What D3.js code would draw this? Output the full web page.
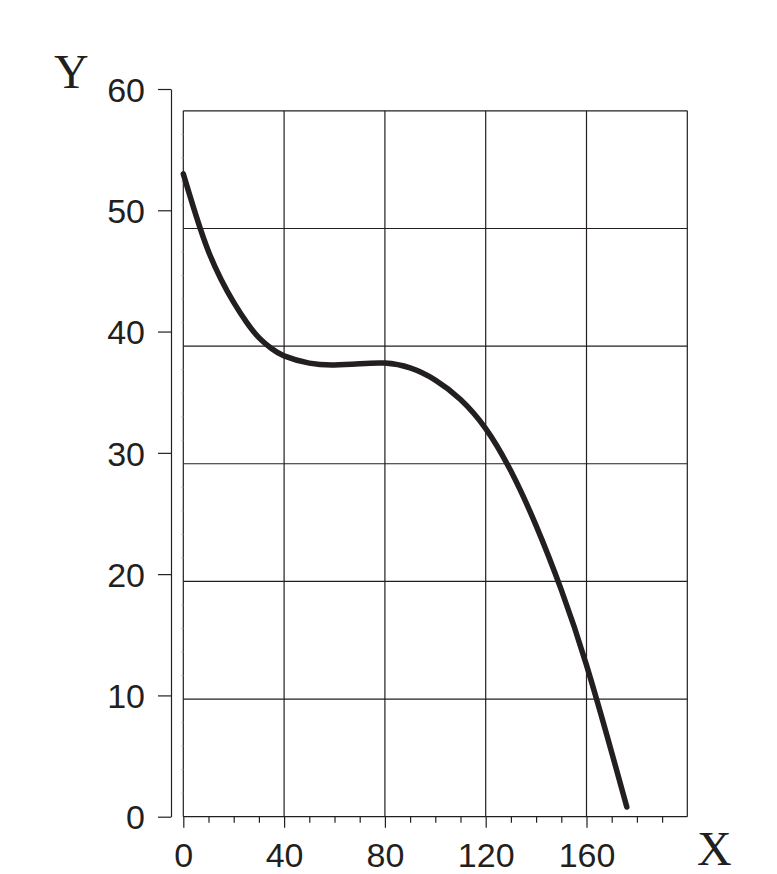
<!DOCTYPE html>
<html>
<head>
<meta charset="utf-8">
<script src="https://cdn.jsdelivr.net/npm/d3@7"></script>
<style>
  html, body { margin: 0; padding: 0; background: #fff; }
  svg { display: block; }
</style>
</head>
<body>
<svg id="chart" width="777" height="874"></svg>
<script>
// ---- data ----
const curveX = [0, 5, 10, 15, 20, 25, 30, 35, 40, 50, 60, 70, 80, 90, 100, 110, 120, 130, 140, 150, 160, 170, 176];
const curveY = [53.0, 49.6, 46.6, 44.3, 42.4, 40.8, 39.5, 38.6, 38.0, 37.4, 37.25, 37.35, 37.4, 37.0, 36.0, 34.4, 32.0, 28.5, 24.0, 18.7, 12.5, 5.3, 0.8];
const xTickLabels = [0, 40, 80, 120, 160];
const xMinorTicks = [10, 20, 30, 50, 60, 70, 90, 100, 110, 130, 140, 150, 170, 180, 190];
const yTickLabels = [0, 10, 20, 30, 40, 50, 60];
const xGrid = [0, 40, 80, 120, 160, 200];
const yGrid = [0, 9.7, 19.4, 29.1, 38.8, 48.5, 58.2];
const yMinorGrid = [1.94, 3.88, 5.82, 7.76, 11.64, 13.58, 15.52, 17.46, 21.34, 23.28, 25.22, 27.16, 31.04, 32.98, 34.92, 36.86, 40.74, 42.68, 44.62, 46.56, 50.44, 52.38, 54.32, 56.26];
const xTitle = "X";
const yTitle = "Y";

// ---- layout ----
const ink = "#231f20";
const svg = d3.select("#chart");
const x = d3.scaleLinear().domain([0, 200]).range([183.3, 687.3]);
const y = d3.scaleLinear().domain([0, 60]).range([816.7, 89]);
const axisX = 171;

// grid
const g = svg.append("g");
g.selectAll("line.vg").data(xGrid).join("line")
  .attr("x1", d => x(d)).attr("x2", d => x(d))
  .attr("y1", y(yGrid[yGrid.length - 1])).attr("y2", y(0))
  .attr("stroke", ink).attr("stroke-width", 1.2);
g.selectAll("line.hg").data(yGrid).join("line")
  .attr("x1", x(0)).attr("x2", x(200))
  .attr("y1", d => y(d)).attr("y2", d => y(d))
  .attr("stroke", ink).attr("stroke-width", 1.2);
// faint minor marks on the left edge of the box
g.selectAll("line.mg").data(yMinorGrid).join("line")
  .attr("x1", x(0) - 2).attr("x2", x(0))
  .attr("y1", d => y(d)).attr("y2", d => y(d))
  .attr("stroke", "#b8b8b8").attr("stroke-width", 1);

// y axis
const yAxis = d3.axisLeft(y).tickValues(yTickLabels).tickSize(13).tickSizeOuter(0).tickPadding(13);
const ya = svg.append("g").attr("transform", `translate(${axisX},0)`).call(yAxis);
ya.select(".domain").attr("stroke", ink).attr("stroke-width", 1.2);
ya.selectAll(".tick line").attr("stroke", ink).attr("stroke-width", 1.2);
ya.selectAll(".tick text").attr("fill", ink)
  .attr("font-family", "'Liberation Sans', Arial, sans-serif").attr("font-size", 34)
  .attr("dy", "0.36em");

// x axis
const xAxis = d3.axisBottom(x).tickValues(xTickLabels).tickSize(11).tickSizeOuter(0).tickPadding(15);
const xa = svg.append("g").attr("transform", `translate(0,${y(0)})`).call(xAxis);
xa.select(".domain").remove();
xa.selectAll(".tick line").attr("stroke", ink).attr("stroke-width", 1.2);
xa.selectAll(".tick text").attr("fill", ink)
  .attr("font-family", "'Liberation Sans', Arial, sans-serif").attr("font-size", 34)
  .attr("dy", "0.71em");
const xMinor = d3.axisBottom(x).tickValues(xMinorTicks).tickSize(6).tickSizeOuter(0).tickFormat("");
const xm = svg.append("g").attr("transform", `translate(0,${y(0)})`).call(xMinor);
xm.select(".domain").remove();
xm.selectAll(".tick line").attr("stroke", ink).attr("stroke-width", 1.2);

// curve
const pts = curveX.map((v, i) => [v, curveY[i]]);
svg.append("path").datum(pts)
  .attr("d", d3.line().x(d => x(d[0])).y(d => y(d[1])).curve(d3.curveNatural))
  .attr("fill", "none").attr("stroke", ink).attr("stroke-width", 5.5)
  .attr("stroke-linecap", "round").attr("stroke-linejoin", "round");

// titles
svg.append("text").text(yTitle).attr("x", 54).attr("y", 88)
  .attr("font-family", "'Liberation Serif', 'Times New Roman', serif").attr("font-size", 48).attr("fill", ink);
svg.append("text").text(xTitle).attr("x", 697).attr("y", 865)
  .attr("font-family", "'Liberation Serif', 'Times New Roman', serif").attr("font-size", 48).attr("fill", ink);
</script>
</body>
</html>
